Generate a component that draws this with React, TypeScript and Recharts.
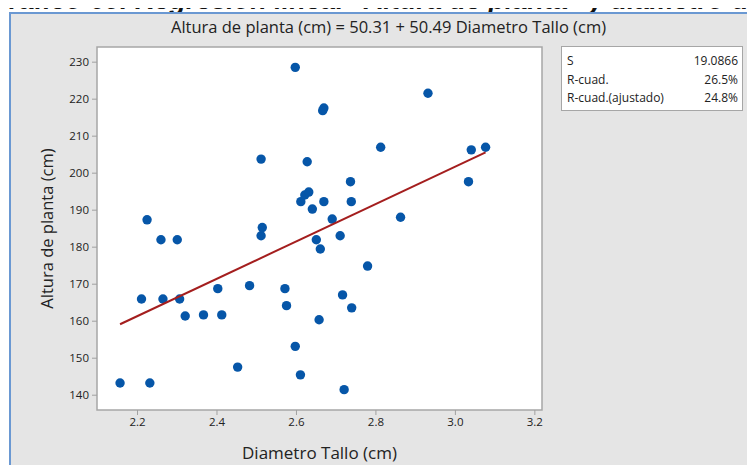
import {
  ScatterChart,
  Scatter,
  XAxis,
  YAxis,
  ReferenceArea,
} from 'recharts';

// valores (Diametro Tallo vs Altura de planta)
const diametro = [
  2.156, 2.231, 2.224, 2.21, 2.259, 2.3, 2.264, 2.306, 2.32, 2.366, 2.412, 2.402,
  2.452, 2.482, 2.511, 2.514, 2.511, 2.571, 2.575, 2.597, 2.61, 2.597, 2.627, 2.611,
  2.621, 2.631, 2.64, 2.65, 2.66, 2.71, 2.779, 2.716, 2.739, 2.657, 2.72, 2.931,
  2.669, 2.666, 2.812, 3.04, 3.076, 3.033, 2.736, 2.669, 2.738, 2.69, 2.862,
];
const altura = [
  143.3, 143.3, 187.4, 166.0, 182.0, 182.0, 166.0, 166.0, 161.4, 161.7, 161.7, 168.8,
  147.6, 169.6, 183.1, 185.3, 203.8, 168.8, 164.2, 153.2, 145.5, 228.6, 203.1, 192.3,
  194.1, 194.9, 190.3, 182.0, 179.5, 183.1, 174.9, 167.1, 163.6, 160.4, 141.5, 221.6,
  217.6, 216.9, 207.0, 206.3, 207.0, 197.7, 197.7, 192.3, 192.3, 187.6, 188.1,
];

const xTicks = [2.2, 2.4, 2.6, 2.8, 3.0, 3.2];
const yTicks = [140, 150, 160, 170, 180, 190, 200, 210, 220, 230];
const xDomain = [2.098, 3.218];
const yDomain = [136, 234.1];

// ajuste: Altura = 50.31 + 50.49 Diametro
const intercepto = 50.31;
const pendiente = 50.49;

const statLabels = ['S', 'R-cuad.', 'R-cuad.(ajustado)'];
const statValues = ['19.0866', '26.5%', '24.8%'];

const points = diametro.map((d, i) => ({ x: d, y: altura[i] }));
const xMin = Math.min(...diametro);
const xMax = Math.max(...diametro);
const fitLine = [xMin, xMax].map((x) => ({ x, y: intercepto + pendiente * x }));

const font = '"Open Sans", "Noto Sans", sans-serif';
const tickStyle = { fontSize: 11.5, fill: '#222', fontFamily: font };

const Dot = (props: any) => (
  <circle cx={props.cx} cy={props.cy} r={4.7} fill="#0656a8" />
);

export default function App() {
  return (
    <div style={{ position: 'relative', width: 755, height: 473, margin: -8, background: '#fff', overflow: 'hidden' }}>
      {/* pie de figura, cortado arriba como en la captura */}
      <div style={{ position: 'absolute', left: 0, top: 0, width: 755, height: 12, overflow: 'hidden' }}>
        <div
          style={{
            position: 'absolute',
            left: -12,
            top: -13,
            whiteSpace: 'nowrap',
            fontFamily: '"Liberation Sans", Arial, sans-serif',
            fontStyle: 'italic',
            fontWeight: 'bold',
            fontSize: 27,
            lineHeight: '26px',
            color: '#111',
          }}
        >
          Gráfico 60. Regresión lineal "Altura de planta" y diámetro de tallo
        </div>
      </div>

      {/* marco gris */}
      <div
        style={{
          position: 'absolute',
          left: 9,
          top: 12,
          right: 0,
          bottom: 0,
          background: '#e5e5e5',
          borderLeft: '2px solid #6a98d2',
          borderTop: '2px solid #6a98d2',
        }}
      />

      <div
        style={{
          position: 'absolute',
          left: 0,
          top: 18.5,
          width: 777,
          textAlign: 'center',
          fontFamily: font,
          fontSize: 16.5,
          lineHeight: '16px',
          color: '#222',
        }}
      >
        Altura de planta (cm) = 50.31 + 50.49 Diametro Tallo (cm)
      </div>

      <div style={{ position: 'absolute', left: 0, top: 0 }}>
        <ScatterChart width={755} height={473} margin={{ top: 47, right: 213, bottom: 11, left: 37 }}>
          <XAxis
            type="number"
            dataKey="x"
            domain={xDomain}
            ticks={xTicks}
            allowDataOverflow
            height={52}
            tickFormatter={(v: number) => v.toFixed(1)}
            axisLine={false}
            tickLine={{ stroke: '#a0a0a0' }}
            tickSize={5}
            tickMargin={3}
            tick={tickStyle}
            label={{
              value: 'Diametro Tallo (cm)',
              position: 'insideBottom',
              offset: 3,
              style: { fontSize: 17, fill: '#222', fontFamily: font },
            }}
          />
          <YAxis
            type="number"
            dataKey="y"
            domain={yDomain}
            ticks={yTicks}
            allowDataOverflow
            width={60}
            axisLine={false}
            tickLine={{ stroke: '#a0a0a0' }}
            tickSize={5}
            tickMargin={3}
            tick={tickStyle}
            label={{
              value: 'Altura de planta (cm)',
              angle: -90,
              position: 'insideLeft',
              offset: 10,
              style: { textAnchor: 'middle', fontSize: 16.5, fill: '#222', fontFamily: font },
            }}
          />
          <ReferenceArea
            x1={xDomain[0]}
            x2={xDomain[1]}
            y1={yDomain[0]}
            y2={yDomain[1]}
            fill="#fff"
            fillOpacity={1}
            stroke="#a6a6a6"
            strokeWidth={1.5}
          />
          <Scatter data={points} shape={Dot} isAnimationActive={false} />
          <Scatter
            data={fitLine}
            line={{ stroke: '#a41e1e', strokeWidth: 2 }}
            shape={() => null}
            isAnimationActive={false}
          />
        </ScatterChart>
      </div>

      {/* cuadro de resumen */}
      <div
        style={{
          position: 'absolute',
          left: 561,
          top: 46,
          width: 182,
          height: 65,
          background: '#fff',
          border: '1px solid #a6a6a6',
          fontFamily: font,
          fontSize: 12,
          color: '#222',
          padding: '5px 4px 0 5px',
          boxSizing: 'border-box',
        }}
      >
        {statLabels.map((s, i) => (
          <div key={s} style={{ display: 'flex', justifyContent: 'space-between', height: 18.5, lineHeight: '18.5px' }}>
            <span>{s}</span>
            <span>{statValues[i]}</span>
          </div>
        ))}
      </div>
    </div>
  );
}
